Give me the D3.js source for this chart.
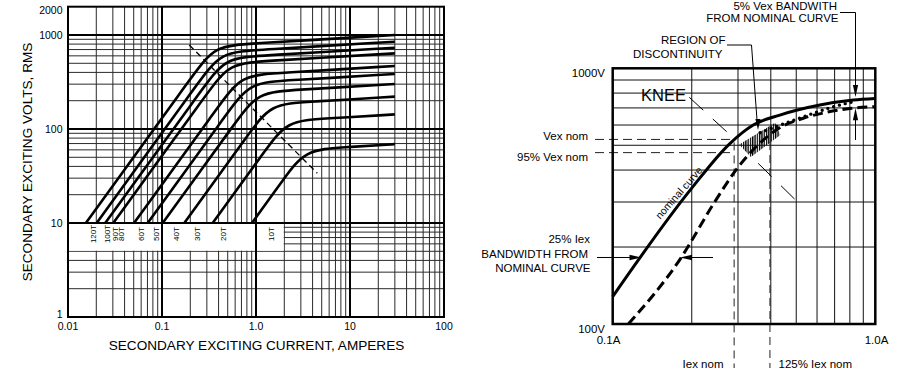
<!DOCTYPE html>
<html>
<head>
<meta charset="utf-8">
<script src="https://cdn.jsdelivr.net/npm/d3@7/dist/d3.min.js"></script>
<style>
	body { margin: 0; background: #fff; }
	svg { display: block; font-family: "Liberation Sans", Arial, Helvetica, sans-serif; }
</style>
</head>
<body>
<svg id="chart" width="906" height="374"></svg>
<script>
// ---- left chart: excitation curves, [amperes, volts]
var turns = ["120T", "100T", "90T", "80T", "60T", "50T", "40T", "30T", "20T", "10T"];
var c120 = [[0.0155, 10], [0.217, 381], [0.36, 767], [0.906, 811], [30, 1000]];
var c100 = [[0.0202, 10], [0.252, 326], [0.419, 656], [1.05, 693], [30, 849]];
var c90 = [[0.0249, 10], [0.282, 284], [0.468, 571], [1.18, 604], [30, 733]];
var c80 = [[0.0303, 10], [0.311, 248], [0.517, 500], [1.3, 528], [30, 638]];
var c60 = [[0.0504, 10], [0.418, 185], [0.693, 373], [1.74, 394], [30, 468]];
var c50 = [[0.0704, 10], [0.512, 154], [0.85, 311], [2.14, 328], [30, 385]];
var c40 = [[0.1017, 10], [0.624, 122], [1.04, 246], [2.6, 260], [30, 301]];
var c30 = [[0.1726, 10], [0.857, 91.2], [1.42, 184], [3.57, 194], [30, 221]];
var c20 = [[0.346, 10], [1.28, 60.7], [2.12, 122], [5.33, 129], [30, 143]];
var c10 = [[0.906, 10], [2.0, 29.9], [3.33, 60], [8.36, 63.7], [30, 69]];
var curves = [c120, c100, c90, c80, c60, c50, c40, c30, c20, c10];
var labelAmps = [0.0189, 0.026, 0.0324, 0.0375, 0.0608, 0.0879, 0.143, 0.241, 0.446, 1.47];
var kneeLine = [[0.195, 783], [4.49, 33.8]];
var xTicksL = [0.01, 0.1, 1, 10, 100];
var xTickTextL = ["0.01", "0.1", "1.0", "10", "100"];
var yTicksL = [1, 10, 100, 1000, 2000];

// ---- right chart: knee tolerance sketch
var nominal = [[0.1, 128], [0.2, 340], [0.28, 509], [0.343, 600], [0.433, 656], [0.615, 718], [0.824, 751], [1.0, 762]];
var lowBand = [[0.1147, 100], [0.183, 183], [0.242, 295], [0.3, 410], [0.36, 505], [0.421, 575], [0.532, 638], [0.653, 673], [0.8, 696], [1.0, 708]];
var measured = [[0.364, 560], [0.408, 585], [0.525, 643], [0.682, 704], [0.824, 740]];
var hatchZone = [[0.303, 503], [0.415, 612], [0.435, 548], [0.336, 450]];
var vexNom = 527, vex95 = 468, iexNom = 0.29, iex125 = 0.397;
var kneeMark = [[[0.1957, 770], [0.2716, 565]], [[0.358, 425], [0.501, 303]]];

var svg = d3.select("#chart");

// ================= left chart =================
var xL = d3.scaleLog().domain([0.01, 100]).range([68, 444]);
var yL = d3.scaleLog().domain([1, 2000]).range([317, 6.7]);
var isDecade = function (v) { return Math.abs(Math.log10(v) - Math.round(Math.log10(v))) < 1e-6; };

var left = svg.append("g");
var gridL = left.append("g").attr("stroke", "#2a2a2a").attr("stroke-width", 1);

gridL.selectAll(".vx").data(xL.ticks().filter(function (d) { return !isDecade(d); }))
	.enter().append("line")
	.attr("x1", function (d) { return xL(d); }).attr("x2", function (d) { return xL(d); })
	.attr("y1", yL(2000)).attr("y2", yL(1));
gridL.selectAll(".hy").data(yL.ticks().filter(function (d) { return !isDecade(d) && d < 2000; }))
	.enter().append("line")
	.attr("y1", function (d) { return yL(d); }).attr("y2", function (d) { return yL(d); })
	.attr("x1", xL(0.01)).attr("x2", xL(100));

// white label box for the turn counts
left.append("rect")
	.attr("x", xL(0.01)).attr("y", yL(10))
	.attr("width", xL(2) - xL(0.01) - 0.6).attr("height", yL(5) - yL(10) - 0.6)
	.attr("fill", "#fff");

var heavyL = left.append("g").attr("stroke", "#000").attr("stroke-width", 2);
heavyL.selectAll(".dx").data([0.1, 1, 10]).enter().append("line")
	.attr("x1", function (d) { return xL(d); }).attr("x2", function (d) { return xL(d); })
	.attr("y1", yL(2000)).attr("y2", yL(1));
heavyL.selectAll(".dy").data([10, 100, 1000]).enter().append("line")
	.attr("y1", function (d) { return yL(d); }).attr("y2", function (d) { return yL(d); })
	.attr("x1", xL(0.01)).attr("x2", xL(100));

left.append("rect")
	.attr("x", xL(0.01)).attr("y", yL(2000))
	.attr("width", xL(100) - xL(0.01)).attr("height", yL(1) - yL(2000))
	.attr("fill", "none").attr("stroke", "#000").attr("stroke-width", 2);

var lineL = d3.line()
	.x(function (d) { return xL(d[0]); })
	.y(function (d) { return yL(d[1]); })
	.curve(d3.curveBasis);

left.selectAll(".curve").data(curves).enter().append("path")
	.attr("class", "curve")
	.attr("d", lineL)
	.attr("fill", "none").attr("stroke", "#000").attr("stroke-width", 2.6);

left.append("path")
	.attr("d", d3.line().x(function (d) { return xL(d[0]); }).y(function (d) { return yL(d[1]); })(kneeLine))
	.attr("stroke", "#000").attr("stroke-width", 1.3).attr("stroke-dasharray", "6,4").attr("fill", "none");

left.selectAll(".turn").data(turns).enter().append("text")
	.attr("transform", function (d, i) { return "translate(" + xL(labelAmps[i]) + ",234) rotate(-90)"; })
	.attr("text-anchor", "middle").attr("dominant-baseline", "central")
	.attr("font-size", 8).text(function (d) { return d; });

left.selectAll(".xt").data(xTicksL).enter().append("text")
	.attr("x", function (d) { return xL(d); }).attr("y", 330)
	.attr("text-anchor", "middle").attr("font-size", 10.5)
	.text(function (d, i) { return xTickTextL[i]; });

left.selectAll(".yt").data(yTicksL).enter().append("text")
	.attr("x", 62.5)
	.attr("y", function (d) { return Math.min(Math.max(yL(d), yL(2000) + 3.5), yL(1) - 2.7); })
	.attr("text-anchor", "end").attr("dominant-baseline", "central").attr("font-size", 10.5)
	.text(function (d) { return d; });

left.append("text").attr("x", 256.5).attr("y", 350).attr("text-anchor", "middle")
	.attr("font-size", 13.6).text("SECONDARY EXCITING CURRENT, AMPERES");
left.append("text").attr("transform", "translate(32,162) rotate(-90)").attr("text-anchor", "middle")
	.attr("font-size", 13.6).text("SECONDARY EXCITING VOLTS, RMS");

// ================= right chart =================
var xR = d3.scaleLog().domain([0.1, 1]).range([612.7, 875.3]);
var yR = d3.scaleLog().domain([100, 1000]).range([324, 68.3]);
var lineR = d3.line().x(function (d) { return xR(d[0]); }).y(function (d) { return yR(d[1]); });

var right = svg.append("g");
var defs = svg.append("defs");
defs.append("pattern").attr("id", "hatch").attr("patternUnits", "userSpaceOnUse")
	.attr("width", 2.3).attr("height", 10)
	.append("rect").attr("x", 0).attr("y", 0).attr("width", 1.3).attr("height", 10).attr("fill", "#000");

var gridR = right.append("g").attr("stroke", "#111").attr("stroke-width", 1);
gridR.selectAll(".vx").data(xR.ticks().filter(function (d) { return !isDecade(d); }))
	.enter().append("line")
	.attr("x1", function (d) { return xR(d); }).attr("x2", function (d) { return xR(d); })
	.attr("y1", yR(1000)).attr("y2", yR(100));
gridR.selectAll(".hy").data(yR.ticks().filter(function (d) { return !isDecade(d); }))
	.enter().append("line")
	.attr("y1", function (d) { return yR(d); }).attr("y2", function (d) { return yR(d); })
	.attr("x1", xR(0.1)).attr("x2", xR(1));

// reference dashes for Vex / Iex
var refs = right.append("g").attr("stroke", "#222").attr("stroke-width", 1).attr("stroke-dasharray", "9,5");
refs.append("line").attr("x1", 595).attr("x2", xR(0.282)).attr("y1", yR(vexNom)).attr("y2", yR(vexNom));
refs.append("line").attr("x1", 595).attr("x2", xR(iexNom)).attr("y1", yR(vex95)).attr("y2", yR(vex95));
refs.append("line").attr("x1", xR(iexNom)).attr("x2", xR(iexNom)).attr("y1", yR(vexNom) + 3).attr("y2", 368).attr("stroke-dasharray", "8,5");
refs.append("line").attr("x1", xR(iex125)).attr("x2", xR(iex125)).attr("y1", yR(515)).attr("y2", 368).attr("stroke-dasharray", "8,5");

right.append("path").attr("d", lineR(hatchZone) + "Z").attr("fill", "url(#hatch)");

right.append("path").attr("d", lineR.curve(d3.curveMonotoneX)(nominal))
	.attr("fill", "none").attr("stroke", "#000").attr("stroke-width", 3);
right.append("path").attr("d", lineR.curve(d3.curveMonotoneX)(lowBand))
	.attr("fill", "none").attr("stroke", "#000").attr("stroke-width", 3).attr("stroke-dasharray", "10,5");
right.append("path").attr("d", lineR.curve(d3.curveMonotoneX)(measured))
	.attr("fill", "none").attr("stroke", "#000").attr("stroke-width", 3.4)
	.attr("stroke-linecap", "round").attr("stroke-dasharray", "0,6");

right.selectAll(".knee").data(kneeMark).enter().append("path")
	.attr("d", lineR.curve(d3.curveLinear))
	.attr("stroke", "#000").attr("stroke-width", 1).attr("stroke-dasharray", "19,13").attr("fill", "none");

right.append("rect")
	.attr("x", xR(0.1)).attr("y", yR(1000))
	.attr("width", xR(1) - xR(0.1)).attr("height", yR(100) - yR(1000))
	.attr("fill", "none").attr("stroke", "#000").attr("stroke-width", 2.5);

// arrows
function arrowHead(x, y, dir, len, half) {
	var p;
	if (dir == "right") p = [[x, y], [x - len, y - half], [x - len, y + half]];
	else if (dir == "left") p = [[x, y], [x + len, y - half], [x + len, y + half]];
	else if (dir == "down") p = [[x, y], [x - half, y - len], [x + half, y - len]];
	else p = [[x, y], [x - half, y + len], [x + half, y + len]];
	right.append("path").attr("d", "M" + p.join("L") + "Z").attr("fill", "#000");
}
var ink = right.append("g").attr("stroke", "#000").attr("stroke-width", 1).attr("fill", "none");
var yBand = yR(182);
ink.append("line").attr("x1", 597).attr("x2", 630).attr("y1", yBand).attr("y2", yBand);
arrowHead(641.5, yBand, "right", 12, 2.8);
ink.append("line").attr("x1", 690).attr("x2", 713).attr("y1", yBand).attr("y2", yBand);
arrowHead(680, yBand, "left", 12, 2.8);

ink.append("path").attr("d", "M840,12.5H855.5V86");
arrowHead(855.5, yR(762) - 1.5, "down", 12, 2.6);
ink.append("line").attr("x1", 855.5).attr("x2", 855.5).attr("y1", 118).attr("y2", 140);
arrowHead(855.5, yR(708) + 1.5, "up", 12, 2.6);

ink.append("path").attr("d", "M727,45H751.5L757,120");
arrowHead(758, 130, "down", 11, 2.6);

// texts on the right chart
var t = right.append("g").attr("font-size", 11.5).attr("fill", "#000");
function txt(s, x, y, anchor, size) {
	var e = t.append("text").attr("x", x).attr("y", y).attr("text-anchor", anchor || "start").text(s);
	if (size) e.attr("font-size", size);
	return e;
}
txt("1000V", 605, 77, "end");
txt("100V", 605, 332.5, "end");
txt("0.1A", 608.5, 343.5, "middle");
txt("1.0A", 876.5, 343.5, "middle");
txt("5% Vex  BANDWITH", 837, 9.5, "end");
txt("FROM NOMINAL CURVE", 838.5, 22, "end");
txt("REGION OF", 725.5, 44, "end");
txt("DISCONTINUITY", 722.5, 57.5, "end");
txt("KNEE", 641, 101, "start", 16.5);
txt("Vex  nom", 588, 140, "end");
txt("95% Vex  nom", 588, 160.5, "end");
txt("25% Iex", 590, 242.5, "end");
txt("BANDWIDTH  FROM", 588, 257.5, "end");
txt("NOMINAL CURVE", 590.5, 271.5, "end");
txt("Iex nom", 723.5, 367.5, "end");
txt("125% Iex nom", 778.5, 367.5, "start");
t.append("text").attr("transform", "translate(" + xR(0.183) + "," + yR(319) + ") rotate(-49)")
	.attr("text-anchor", "middle").attr("font-size", 10.5).text("nominal curve");
</script>
</body>
</html>
